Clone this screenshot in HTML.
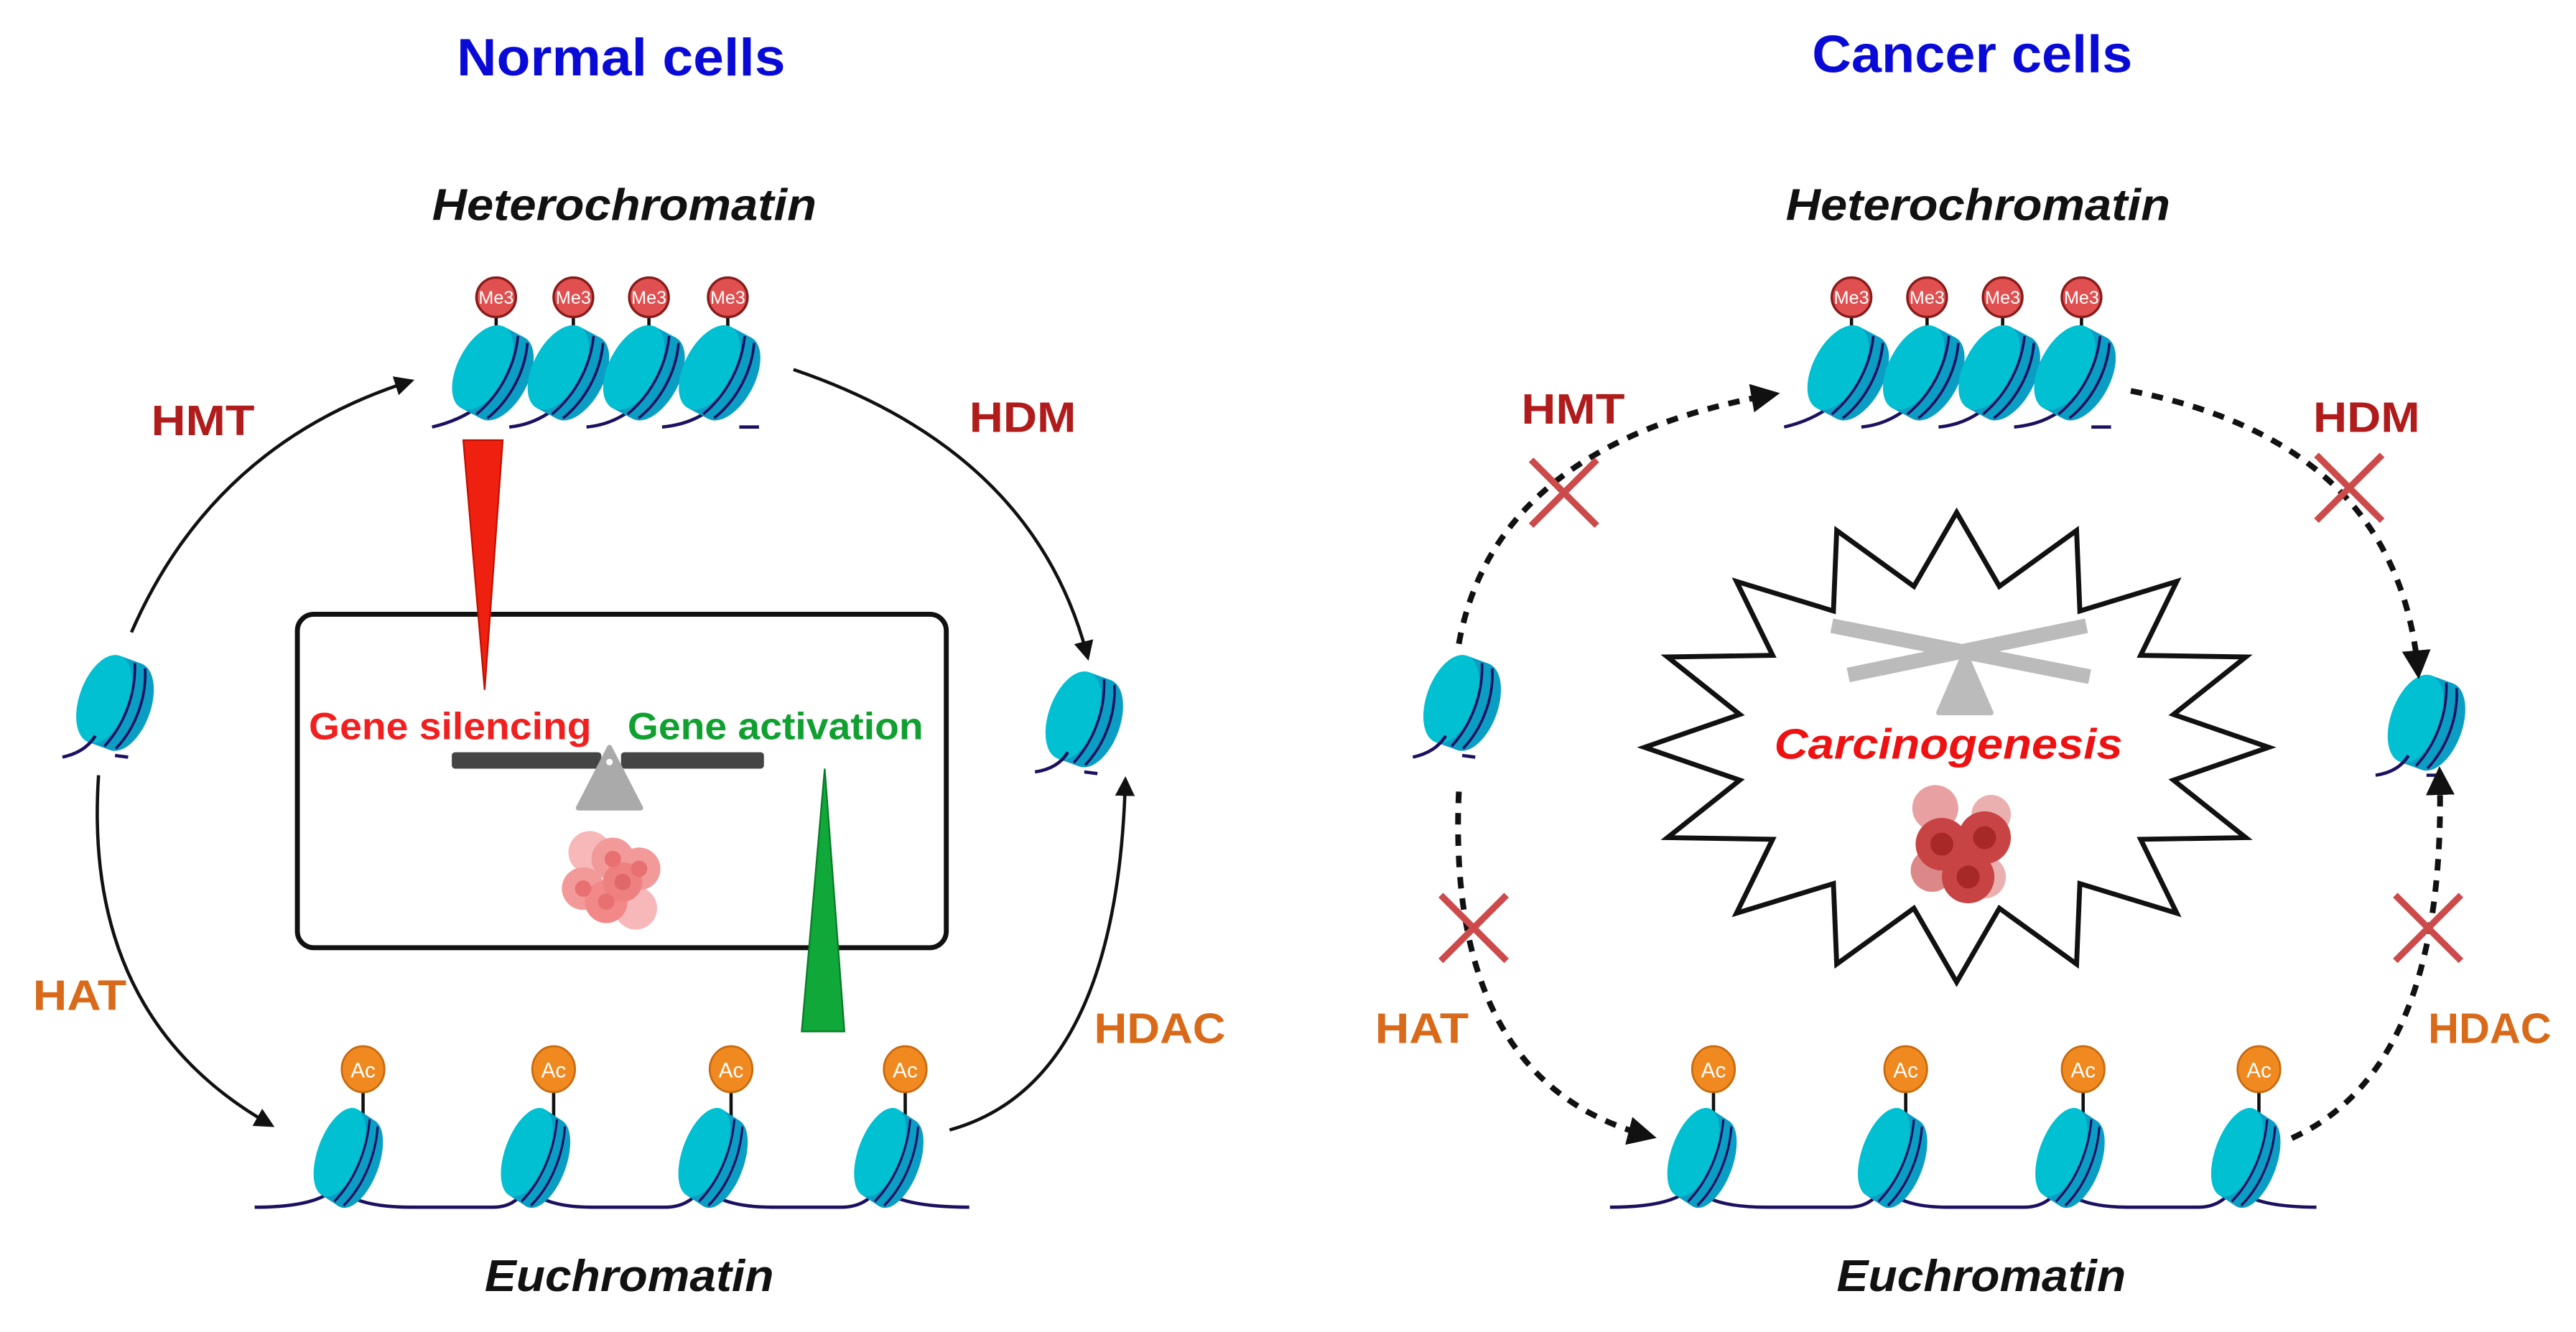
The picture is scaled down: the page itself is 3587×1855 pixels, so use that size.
<!DOCTYPE html>
<html><head><meta charset="utf-8">
<style>
html,body{margin:0;padding:0;background:#fff;}
svg{display:block;}
text{font-family:"Liberation Sans Narrow","Liberation Sans",sans-serif;font-weight:bold;}
</style></head>
<body>
<svg width="3587" height="1855" viewBox="0 0 1568 811" preserveAspectRatio="none" xmlns="http://www.w3.org/2000/svg">
<defs>
<g id="nuc">
 <g transform="rotate(28)">
  <ellipse cx="7" cy="0" rx="15" ry="28" fill="#0a9ec4"/>
  <rect x="-7" y="-28" width="14" height="56" fill="#0a9ec4"/>
  <ellipse cx="-7" cy="0" rx="15" ry="28" fill="#00c0d2"/>
  <path d="M3,-27 C10,-10 10,10 3,27 M10,-26 C17,-10 17,10 10,26" fill="none" stroke="#1c1060" stroke-width="1.6"/>
 </g>
</g>
<g id="me3"><line x1="0" y1="0" x2="0" y2="34" stroke="#111" stroke-width="2"/><circle cx="0" cy="0" r="12" fill="#e05050" stroke="#8a1a1a" stroke-width="1.5"/><text x="0" y="4" font-size="11" fill="#fff" text-anchor="middle" style="font-weight:normal">Me3</text></g>
<g id="ac"><line x1="0" y1="0" x2="0" y2="36" stroke="#111" stroke-width="2"/><ellipse cx="0" cy="0" rx="13" ry="14" fill="#f08a20" stroke="#c86a10" stroke-width="1.2"/><text x="0" y="5" font-size="13" fill="#fff" text-anchor="middle" style="font-weight:normal">Ac</text></g>
<marker id="ah" viewBox="0 0 10 10" refX="8" refY="5" markerWidth="6" markerHeight="6" orient="auto"><path d="M0,0 L10,5 L0,10 z" fill="#111"/></marker>
<marker id="ah2" viewBox="0 0 10 10" refX="8" refY="5" markerWidth="5" markerHeight="5" orient="auto"><path d="M0,0 L10,5 L0,10 z" fill="#111"/></marker>
<g id="xm"><path d="M-20,-20 L20,20 M20,-20 L-20,20" stroke="#cc4a4a" stroke-width="4"/></g>
<g id="cluster">
 <circle cx="-14" cy="-16" r="13" fill="#f6b8b8"/><circle cx="14" cy="18" r="13" fill="#f6b8b8"/>
 <circle cx="-18" cy="6" r="13" fill="#f29a9a"/><circle cx="0" cy="-12" r="13" fill="#f29a9a"/>
 <circle cx="16" cy="-6" r="13" fill="#f29a9a"/><circle cx="-4" cy="14" r="13" fill="#f28888"/>
 <circle cx="6" cy="2" r="12" fill="#ee8080"/>
 <circle cx="-18" cy="6" r="5" fill="#e87070"/><circle cx="0" cy="-12" r="5" fill="#e87070"/><circle cx="16" cy="-6" r="5" fill="#e87070"/><circle cx="-4" cy="14" r="5" fill="#e87070"/><circle cx="6" cy="2" r="5" fill="#e06868"/>
</g>
</defs>

<!-- titles -->
<text x="278" y="46" font-size="32" fill="#0a0ad6" textLength="200" lengthAdjust="spacingAndGlyphs">Normal cells</text>
<text x="1103" y="44" font-size="32" fill="#0a0ad6" textLength="195" lengthAdjust="spacingAndGlyphs">Cancer cells</text>
<text x="263" y="134" font-size="27" font-style="italic" fill="#111" textLength="234" lengthAdjust="spacingAndGlyphs">Heterochromatin</text>
<text x="1087" y="134" font-size="27" font-style="italic" fill="#111" textLength="234" lengthAdjust="spacingAndGlyphs">Heterochromatin</text>
<text x="295" y="786" font-size="27" font-style="italic" fill="#111" textLength="176" lengthAdjust="spacingAndGlyphs">Euchromatin</text>
<text x="1118" y="786" font-size="27" font-style="italic" fill="#111" textLength="176" lengthAdjust="spacingAndGlyphs">Euchromatin</text>

<!-- LEFT heterochromatin -->
<path d="M263,260 Q285,255 300,240 M310,260 Q330,258 345,242 M357,260 Q378,258 392,242 M403,260 Q425,258 438,244 M450,260 L462,260" stroke="#1c1060" stroke-width="2" fill="none"/>
<use href="#me3" x="302" y="181"/><use href="#me3" x="349" y="181"/><use href="#me3" x="395" y="181"/><use href="#me3" x="443" y="181"/>
<use href="#nuc" x="300" y="227"/><use href="#nuc" x="346" y="227"/><use href="#nuc" x="392" y="227"/><use href="#nuc" x="438" y="227"/>
<!-- RIGHT heterochromatin -->
<path d="M1086,260 Q1108,255 1123,240 M1133,260 Q1153,258 1168,242 M1180,260 Q1201,258 1215,242 M1226,260 Q1248,258 1261,244 M1273,260 L1285,260" stroke="#1c1060" stroke-width="2" fill="none"/>
<use href="#me3" x="1127" y="181"/><use href="#me3" x="1173" y="181"/><use href="#me3" x="1219" y="181"/><use href="#me3" x="1267" y="181"/>
<use href="#nuc" x="1125" y="227"/><use href="#nuc" x="1171" y="227"/><use href="#nuc" x="1217" y="227"/><use href="#nuc" x="1263" y="227"/>

<!-- single nucleosomes -->
<g transform="translate(70,428) rotate(-8)"><use href="#nuc"/></g>
<path d="M38,461 Q52,458 58,448 M70,460 L78,461" stroke="#1c1060" stroke-width="2" fill="none"/>
<g transform="translate(660,438) rotate(-8)"><use href="#nuc"/></g>
<path d="M630,470 Q644,468 650,458 M660,470 L668,471" stroke="#1c1060" stroke-width="2" fill="none"/>
<g transform="translate(890,428) rotate(-8)"><use href="#nuc"/></g>
<path d="M860,461 Q874,458 880,448 M890,460 L898,461" stroke="#1c1060" stroke-width="2" fill="none"/>
<g transform="translate(1477,440) rotate(-8)"><use href="#nuc"/></g>
<path d="M1446,472 Q1460,470 1466,460 M1477,472 L1485,472" stroke="#1c1060" stroke-width="2" fill="none"/>

<!-- LEFT euchromatin -->
<path d="M155,735 Q195,735 205,722 Q215,735 250,735 L300,735 Q315,735 320,722 Q330,735 360,735 L405,735 Q420,735 428,722 Q438,735 470,735 L512,735 Q528,735 535,722 Q545,735 590,735" stroke="#1c1060" stroke-width="2" fill="none"/>
<use href="#ac" x="221" y="651"/><use href="#ac" x="337" y="651"/><use href="#ac" x="445" y="651"/><use href="#ac" x="551" y="651"/>
<g transform="translate(212,705) scale(0.85,1.05)"><use href="#nuc"/></g>
<g transform="translate(326,705) scale(0.85,1.05)"><use href="#nuc"/></g>
<g transform="translate(434,705) scale(0.85,1.05)"><use href="#nuc"/></g>
<g transform="translate(541,705) scale(0.85,1.05)"><use href="#nuc"/></g>
<!-- RIGHT euchromatin -->
<path d="M980,735 Q1020,735 1030,722 Q1040,735 1075,735 L1125,735 Q1140,735 1146,722 Q1156,735 1185,735 L1232,735 Q1247,735 1254,722 Q1264,735 1295,735 L1338,735 Q1353,735 1360,722 Q1370,735 1410,735" stroke="#1c1060" stroke-width="2" fill="none"/>
<use href="#ac" x="1043" y="651"/><use href="#ac" x="1160" y="651"/><use href="#ac" x="1268" y="651"/><use href="#ac" x="1375" y="651"/>
<g transform="translate(1036,705) scale(0.85,1.05)"><use href="#nuc"/></g>
<g transform="translate(1152,705) scale(0.85,1.05)"><use href="#nuc"/></g>
<g transform="translate(1260,705) scale(0.85,1.05)"><use href="#nuc"/></g>
<g transform="translate(1367,705) scale(0.85,1.05)"><use href="#nuc"/></g>

<!-- LEFT arrows -->
<g fill="none" stroke="#111" stroke-width="2" marker-end="url(#ah)">
<path d="M80,385 Q130,270 250,232"/>
<path d="M483,225 Q630,275 662,400"/>
<path d="M60,472 Q50,620 165,685"/>
<path d="M578,688 Q680,660 685,475"/>
</g>
<!-- RIGHT dashed arrows -->
<g fill="none" stroke="#111" stroke-width="3.5" stroke-dasharray="7,6" marker-end="url(#ah2)">
<path d="M888,392 Q910,270 1080,240"/>
<path d="M1297,238 Q1460,270 1472,410"/>
<path d="M888,482 Q880,660 1005,692"/>
<path d="M1395,693 Q1490,650 1485,470"/>
</g>
<use href="#xm" x="952" y="300"/><use href="#xm" x="1430" y="297"/><use href="#xm" x="897" y="565"/><use href="#xm" x="1478" y="565"/>

<!-- enzyme labels -->
<g font-size="26">
<text x="92" y="265" fill="#b01c1c" textLength="63" lengthAdjust="spacingAndGlyphs">HMT</text>
<text x="590" y="263" fill="#b01c1c" textLength="65" lengthAdjust="spacingAndGlyphs">HDM</text>
<text x="20" y="615" fill="#d86a1a" textLength="57" lengthAdjust="spacingAndGlyphs">HAT</text>
<text x="666" y="635" fill="#d86a1a" textLength="80" lengthAdjust="spacingAndGlyphs">HDAC</text>
<text x="926" y="258" fill="#b01c1c" textLength="63" lengthAdjust="spacingAndGlyphs">HMT</text>
<text x="1408" y="263" fill="#b01c1c" textLength="65" lengthAdjust="spacingAndGlyphs">HDM</text>
<text x="837" y="635" fill="#d86a1a" textLength="57" lengthAdjust="spacingAndGlyphs">HAT</text>
<text x="1478" y="635" fill="#d86a1a" textLength="75" lengthAdjust="spacingAndGlyphs">HDAC</text>
</g>

<!-- normal box -->
<rect x="181" y="374" width="395" height="203" rx="10" fill="none" stroke="#111" stroke-width="3"/>
<path d="M282,268 L306,268 L295,420 Z" fill="#f02010" stroke="#c01000" stroke-width="1"/>
<path d="M488,628 L514,628 L502,468 Z" fill="#10a838" stroke="#0a7a28" stroke-width="1"/>
<text x="188" y="450" font-size="23" fill="#f02020" textLength="172" lengthAdjust="spacingAndGlyphs">Gene silencing</text>
<text x="382" y="450" font-size="23" fill="#10a030" textLength="180" lengthAdjust="spacingAndGlyphs">Gene activation</text>
<rect x="275" y="458" width="91" height="10" rx="2" fill="#444"/>
<rect x="378" y="458" width="87" height="10" rx="2" fill="#444"/>
<path d="M371,455 L390,492 L352,492 Z" fill="#aaa" stroke="#aaa" stroke-width="3" stroke-linejoin="round"/>
<circle cx="371" cy="464" r="2" fill="#fff"/>
<use href="#cluster" x="373" y="535"/>

<!-- starburst -->
<polygon points="1191,312 1217,357 1264,323 1266,372 1325,354 1303,399 1367,400 1323,435 1381,455 1323,475 1367,510 1303,511 1325,556 1266,538 1264,587 1217,553 1191,598 1165,553 1118,587 1116,538 1057,556 1079,511 1015,510 1059,475 1001,455 1059,435 1015,400 1079,399 1057,354 1116,372 1118,323 1165,357" fill="#fff" stroke="#111" stroke-width="3" stroke-linejoin="miter"/>
<line x1="1115" y1="381" x2="1272" y2="412" stroke="#bbb" stroke-width="9"/>
<line x1="1125" y1="411" x2="1270" y2="381" stroke="#bbb" stroke-width="9"/>
<path d="M1196,397 L1212,434 L1180,434 Z" fill="#bbb" stroke="#bbb" stroke-width="3" stroke-linejoin="round"/>
<text x="1080" y="462" font-size="26" font-style="italic" fill="#ee1111" textLength="212" lengthAdjust="spacingAndGlyphs">Carcinogenesis</text>
<g transform="translate(1192,512)">
 <circle cx="-14" cy="-20" r="14" fill="#e8a0a0"/><circle cx="16" cy="22" r="13" fill="#eab0b0"/><circle cx="-16" cy="18" r="13" fill="#dd8888"/><circle cx="20" cy="-16" r="12" fill="#eab0b0"/>
 <circle cx="-10" cy="2" r="16" fill="#c84444"/><circle cx="16" cy="-2" r="16" fill="#c84444"/><circle cx="6" cy="22" r="16" fill="#c84444"/>
 <circle cx="-10" cy="2" r="7" fill="#a82828"/><circle cx="16" cy="-2" r="7" fill="#a82828"/><circle cx="6" cy="22" r="7" fill="#a82828"/>
</g>
</svg>
</body></html>
